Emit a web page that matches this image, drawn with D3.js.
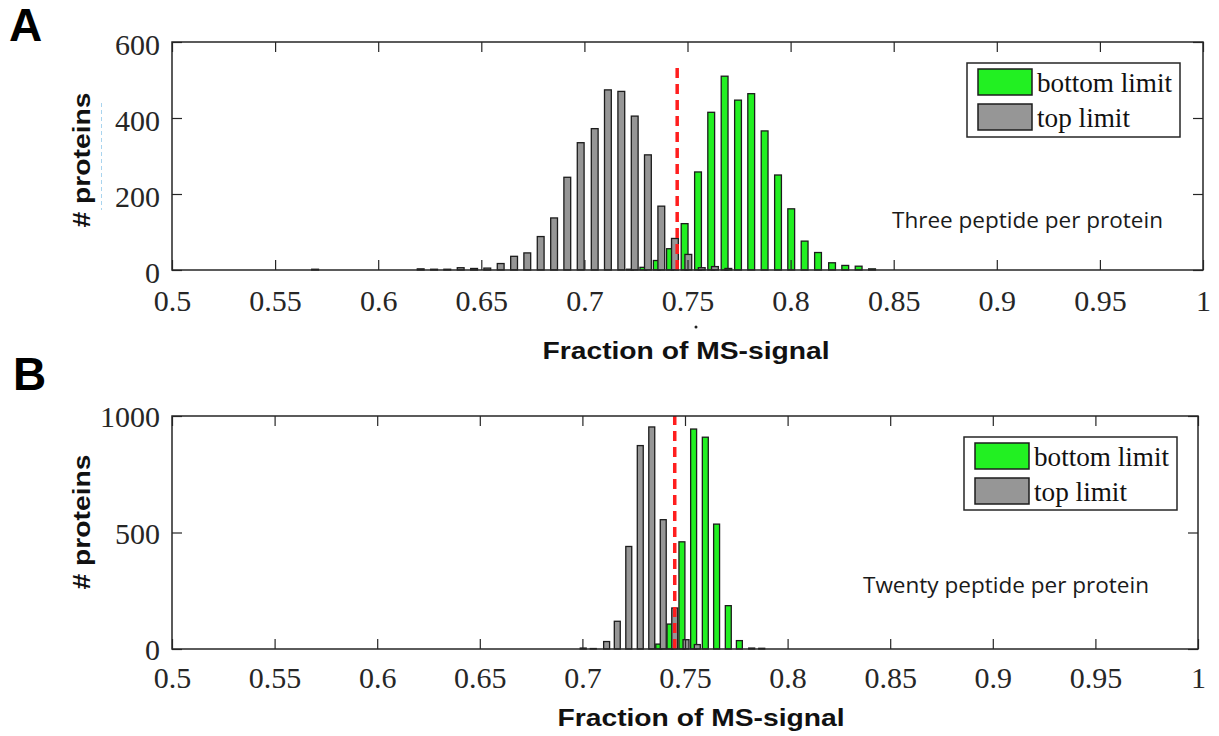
<!DOCTYPE html>
<html><head><meta charset="utf-8">
<script src="https://cdn.jsdelivr.net/npm/d3@7"></script>
<style>body{margin:0;background:#fff;} svg{display:block;}</style>
</head><body><svg id="c" width="1219" height="736"></svg>
<script>
// ---------- data ----------
const xTickValues = [0.5, 0.55, 0.6, 0.65, 0.7, 0.75, 0.8, 0.85, 0.9, 0.95, 1];
const xTickLabels = ["0.5", "0.55", "0.6", "0.65", "0.7", "0.75", "0.8", "0.85", "0.9", "0.95", "1"];
const yTicksA = [0, 200, 400, 600];
const yTicksB = [0, 500, 1000];
const seriesNames = ["bottom limit", "top limit"];
const thresholdValue = 0.745;

// Panel A (three peptides per protein)
const binsA_bottom = [0.7221, 0.7286, 0.7351, 0.7415, 0.7486, 0.7551, 0.7615, 0.7680, 0.7745, 0.7809,
                      0.7874, 0.7939, 0.8003, 0.8068, 0.8133, 0.8201, 0.8265, 0.8330, 0.8395];
const countsA_bottom = [2, 7, 25, 56, 122, 258, 415, 510, 447, 464,
                        366, 250, 161, 76, 46, 19, 12, 10, 3];
const binsA_top = [0.5694, 0.6206, 0.6271, 0.6335, 0.6400, 0.6465, 0.6529, 0.6594, 0.6659, 0.6723,
                   0.6788, 0.6853, 0.6917, 0.6982, 0.7050, 0.7114, 0.7179, 0.7244, 0.7308, 0.7373,
                   0.7439, 0.7504, 0.7569, 0.7633, 0.7698];
const countsA_top = [2, 3, 2, 2, 6, 4, 5, 17, 36, 45,
                     88, 137, 244, 335, 372, 474, 470, 405, 303, 168,
                     83, 41, 6, 9, 4];

// Panel B (twenty peptides per protein)
const binsB_bottom = [0.7372, 0.7427, 0.7485, 0.7542, 0.7599, 0.7654, 0.7711, 0.7765, 0.7825, 0.7874];
const countsB_bottom = [21, 107, 460, 944, 909, 536, 186, 36, 4, 3];
const binsB_top = [0.7004, 0.7053, 0.7118, 0.7170, 0.7226, 0.7282, 0.7338, 0.7394, 0.7450, 0.7505, 0.7560];
const countsB_top = [4, 2, 32, 119, 440, 873, 953, 555, 176, 40, 19];

const annotationA = "Three peptide per protein";
const annotationB = "Twenty peptide per protein";
const xLabel = "Fraction of MS-signal";
const yLabel = "# proteins";

// ---------- layout / style ----------
const GREEN = "#22f022", GRAY = "#969696", EDGE = "#1c1c1c", AXC = "#262626", RED = "#ff1e1e";
const svg = d3.select("#c");
svg.append("rect").attr("width", 1219).attr("height", 736).attr("fill", "#fff");

const panels = [
  { letter: "A", letterPos: [9, 41], l: 172, r: 1203, t: 42, b: 270, yMax: 600, yTicks: yTicksA,
    bottom: [binsA_bottom, countsA_bottom], top: [binsA_top, countsA_top], bw: 0.0033, lineTop: 545,
    xLabelPos: [686, 359], yLabelPos: [90, 160], ann: annotationA, annPos: [892, 228], annLen: 271,
    legend: { x: 967, y: 63, w: 213, h: 74 }, xTickPad: 20, yDy: "0.42em" },
  { letter: "B", letterPos: [13, 390], l: 172, r: 1198, t: 416, b: 649, yMax: 1000, yTicks: yTicksB,
    bottom: [binsB_bottom, countsB_bottom], top: [binsB_top, countsB_top], bw: 0.0029, lineTop: 1000,
    xLabelPos: [701, 726], yLabelPos: [90, 522], ann: annotationB, annPos: [863, 593], annLen: 286,
    legend: { x: 964, y: 437, w: 213, h: 73 }, xTickPad: 18, yDy: "0.36em" }
];

function drawPanel(p) {
  const x = d3.scaleLinear().domain([0.5, 1]).range([p.l, p.r]);
  const y = d3.scaleLinear().domain([0, p.yMax]).range([p.b, p.t]);
  const g = svg.append("g");

  g.append("rect").attr("x", p.l).attr("y", p.t).attr("width", p.r - p.l).attr("height", p.b - p.t).attr("fill", "#fff");

  const bwPx = x(0.5 + p.bw) - x(0.5);
  function bars(series, color) {
    const data = d3.zip(series[0], series[1]);
    g.append("g").selectAll("rect").data(data).join("rect")
      .attr("x", d => x(d[0]) - bwPx / 2)
      .attr("y", d => y(d[1]))
      .attr("width", bwPx)
      .attr("height", d => y(0) - y(d[1]))
      .attr("fill", color).attr("stroke", EDGE).attr("stroke-width", 1.3);
  }
  bars(p.bottom, GREEN);
  bars(p.top, GRAY);

  // threshold line
  g.append("line").attr("x1", x(thresholdValue)).attr("x2", x(thresholdValue))
    .attr("y1", y(0)).attr("y2", y(p.lineTop))
    .attr("stroke", RED).attr("stroke-width", 3.5).attr("stroke-dasharray", "10,6");

  // axes
  const fmt = (d, i) => xTickLabels[i];
  const axB = g.append("g").attr("transform", `translate(0,${p.b})`)
    .call(d3.axisBottom(x).tickValues(xTickValues).tickFormat(fmt).tickSizeInner(-10).tickSizeOuter(0).tickPadding(p.xTickPad));
  const axT = g.append("g").attr("transform", `translate(0,${p.t})`)
    .call(d3.axisTop(x).tickValues(xTickValues).tickFormat("").tickSizeInner(-10).tickSizeOuter(0));
  const axL = g.append("g").attr("transform", `translate(${p.l},0)`)
    .call(d3.axisLeft(y).tickValues(p.yTicks).tickFormat(d3.format("d")).tickSizeInner(-10).tickSizeOuter(0).tickPadding(12));
  const axR = g.append("g").attr("transform", `translate(${p.r},0)`)
    .call(d3.axisRight(y).tickValues(p.yTicks).tickFormat("").tickSizeInner(-10).tickSizeOuter(0));
  [axB, axT, axL, axR].forEach(a => {
    a.select(".domain").remove();
    a.selectAll("line").attr("stroke", AXC).attr("stroke-width", 1.2);
    a.selectAll("text").attr("fill", AXC).attr("font-family", "'Liberation Serif', 'Times New Roman', serif").attr("font-size", 30);
  });
  axL.selectAll("text").attr("dy", p.yDy);

  // box
  g.append("rect").attr("x", p.l).attr("y", p.t).attr("width", p.r - p.l).attr("height", p.b - p.t)
    .attr("fill", "none").attr("stroke", AXC).attr("stroke-width", 1.5);

  // legend
  const L = p.legend;
  const lg = g.append("g");
  lg.append("rect").attr("x", L.x).attr("y", L.y).attr("width", L.w).attr("height", L.h)
    .attr("fill", "#fff").attr("stroke", AXC).attr("stroke-width", 1.5);
  [[GREEN, seriesNames[0], 6, 135], [GRAY, seriesNames[1], 41, 93]].forEach(([c, name, dy, len]) => {
    lg.append("rect").attr("x", L.x + 11).attr("y", L.y + dy).attr("width", 54).attr("height", 26)
      .attr("fill", c).attr("stroke", EDGE).attr("stroke-width", 1.5);
    lg.append("text").attr("x", L.x + 70).attr("y", L.y + dy + 23)
      .attr("font-family", "'Liberation Serif', 'Times New Roman', serif").attr("font-size", 27)
      .attr("textLength", len).attr("lengthAdjust", "spacingAndGlyphs")
      .attr("fill", "#111").text(name);
  });

  // annotation
  g.append("text").attr("x", p.annPos[0]).attr("y", p.annPos[1])
    .attr("font-family", "'Open Sans', 'Noto Sans', sans-serif").attr("font-size", 21.5)
    .attr("textLength", p.annLen).attr("lengthAdjust", "spacingAndGlyphs")
    .attr("fill", "#1a1a1a").text(p.ann);

  // axis labels
  g.append("text").attr("x", p.xLabelPos[0]).attr("y", p.xLabelPos[1]).attr("text-anchor", "middle")
    .attr("font-family", "'Liberation Sans', Arial, sans-serif").attr("font-weight", "bold").attr("font-size", 24.5)
    .attr("textLength", 287).attr("lengthAdjust", "spacingAndGlyphs")
    .attr("fill", "#111").text(xLabel);
  g.append("text").attr("transform", `translate(${p.yLabelPos[0]},${p.yLabelPos[1]}) rotate(-90)`)
    .attr("text-anchor", "middle")
    .attr("font-family", "'Liberation Sans', Arial, sans-serif").attr("font-weight", "bold").attr("font-size", 24.5)
    .attr("textLength", 135).attr("lengthAdjust", "spacingAndGlyphs")
    .attr("fill", "#111").text(yLabel);

  // panel letter
  g.append("text").attr("x", p.letterPos[0]).attr("y", p.letterPos[1])
    .attr("font-family", "'Liberation Sans', Arial, sans-serif").attr("font-weight", "bold").attr("font-size", 46)
    .attr("fill", "#000").text(p.letter);
}
panels.forEach(drawPanel);

// small artifacts present in the original figure
svg.append("line").attr("x1", 101.5).attr("x2", 101.5).attr("y1", 103).attr("y2", 210)
  .attr("stroke", "#a9d4ee").attr("stroke-width", 1).attr("stroke-dasharray", "4,3");
svg.append("circle").attr("cx", 696).attr("cy", 327).attr("r", 1.5).attr("fill", "#222");
</script>
</body></html>
